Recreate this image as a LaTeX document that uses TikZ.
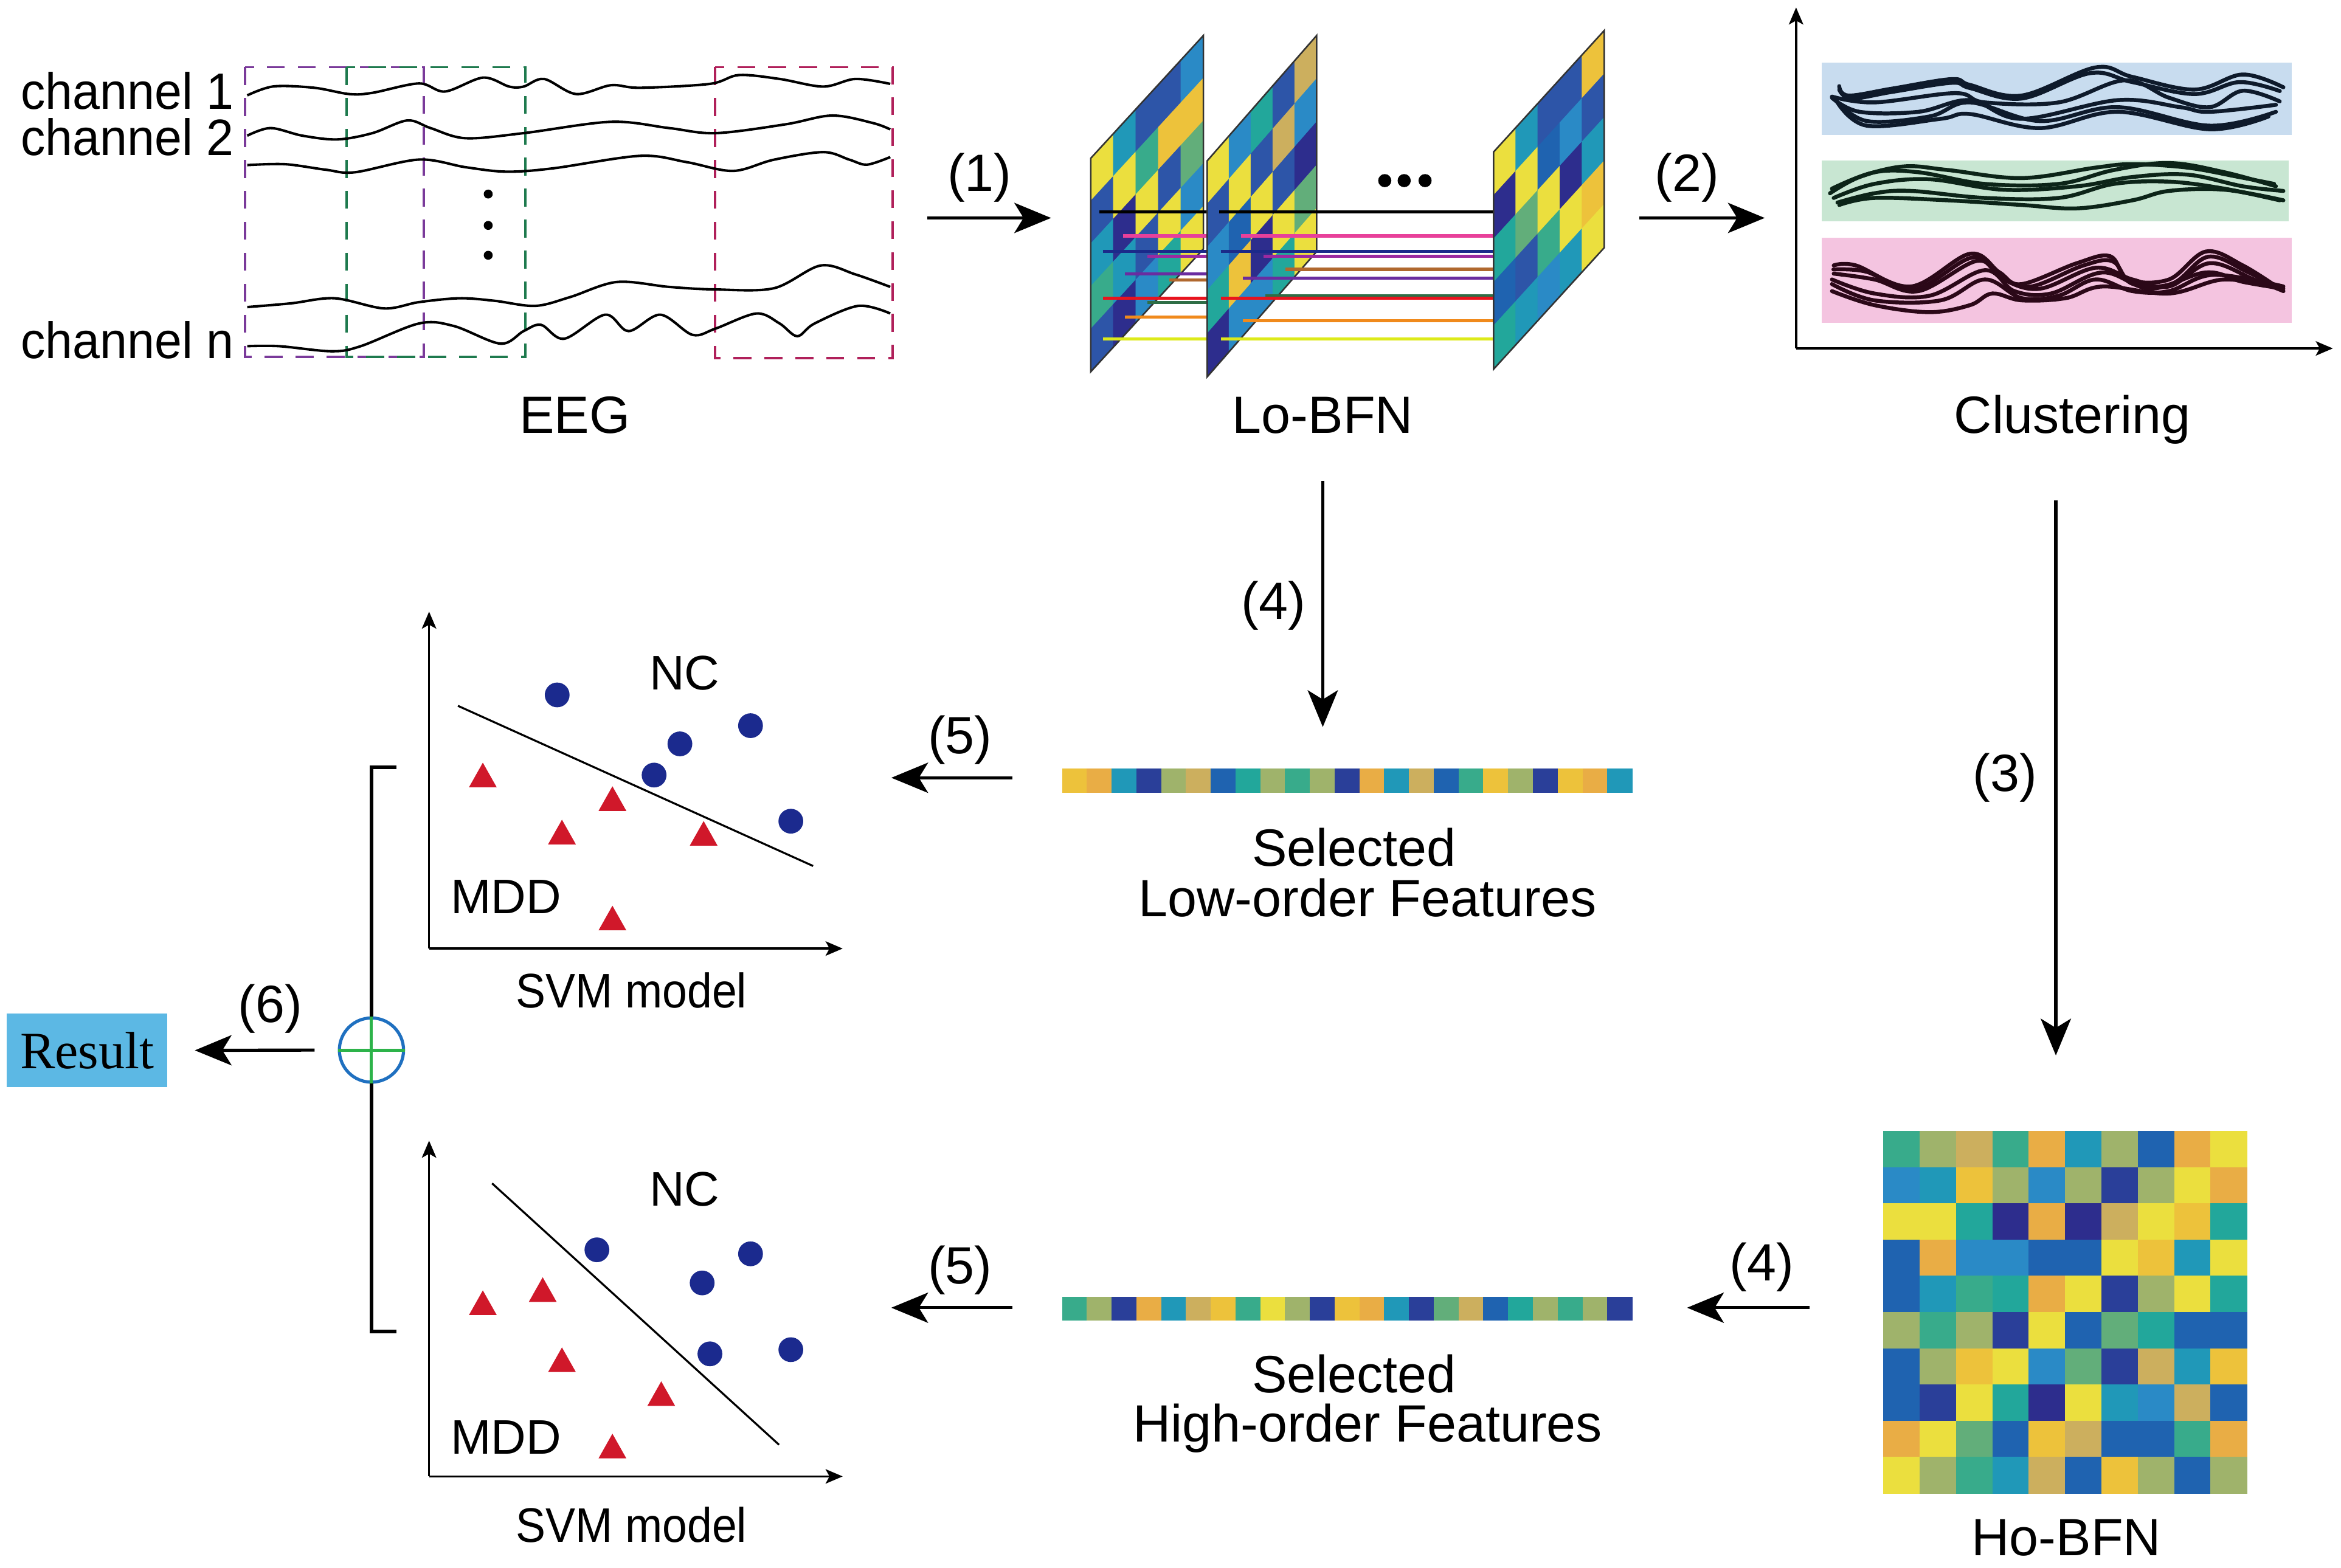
\documentclass[tikz,border=0pt]{standalone}
\usepackage{fontspec}
\setmainfont{Liberation Sans}
\newfontfamily\serifres{Liberation Serif}
\usetikzlibrary{arrows.meta}
\definecolor{pY}{HTML}{EBDF3E}
\definecolor{pYO}{HTML}{EDC23B}
\definecolor{pO}{HTML}{E9AD45}
\definecolor{pTa}{HTML}{CCAF5E}
\definecolor{pOl}{HTML}{9FB36B}
\definecolor{pGr}{HTML}{62AE7A}
\definecolor{pGT}{HTML}{38AB8B}
\definecolor{pTG}{HTML}{22A79B}
\definecolor{pTe}{HTML}{2098B8}
\definecolor{pBT}{HTML}{2A8AC6}
\definecolor{pB}{HTML}{1F63B0}
\definecolor{pBN}{HTML}{2D55A8}
\definecolor{pN}{HTML}{2A3F99}
\definecolor{pDN}{HTML}{2D2D8D}
\definecolor{boxpurple}{HTML}{7A3A9A}
\definecolor{boxgreen}{HTML}{1E7A4E}
\definecolor{boxmag}{HTML}{B0205A}
\definecolor{lpink}{HTML}{E8409A}
\definecolor{lnavy}{HTML}{1B2A8A}
\definecolor{lmag}{HTML}{9B2AA0}
\definecolor{lpurp}{HTML}{6A2CA0}
\definecolor{lbrown}{HTML}{B0682E}
\definecolor{lred}{HTML}{E8141E}
\definecolor{lgreen}{HTML}{2E6E46}
\definecolor{lorange}{HTML}{F08A1C}
\definecolor{lyellow}{HTML}{DDEA1A}
\definecolor{bandblue}{HTML}{C8DCEF}
\definecolor{bandgreen}{HTML}{C8E6D2}
\definecolor{bandpink}{HTML}{F4C4E0}
\definecolor{wblue}{HTML}{0E1A2B}
\definecolor{wgreen}{HTML}{0C2418}
\definecolor{wpink}{HTML}{2B0818}
\definecolor{resblue}{HTML}{5CB8E4}
\definecolor{dotblue}{HTML}{1B2A8E}
\definecolor{trired}{HTML}{D0182A}
\definecolor{plusblue}{HTML}{1F70C0}
\definecolor{plusgreen}{HTML}{2DB34A}
\newcommand\lopanel[6]{%
  \begin{scope}[shift={(#1,#2)}, yslant=#3]
    \foreach \pcols [count=\i from 0] in {#6} {
      \foreach \col [count=\j from 0] in \pcols {
        \fill[fill=p\col, draw=p\col, line width=0.2pt] ({\i*#4/5},{\j*#5/5}) rectangle ({(\i+1)*#4/5},{(\j+1)*#5/5});
      }
    }
    \draw[line width=0.6pt, black!80] (0,0) rectangle (#4,#5);
  \end{scope}}
\newcommand\mtri[2]{\fill[trired] (#1-9.3,#2) -- (#1+9.3,#2) -- (#1,#2-16.5) -- cycle;}
\newcommand\mdot[2]{\fill[dotblue] (#1,#2) circle[radius=8.3];}
\begin{document}
\begin{tikzpicture}[x=0.02cm, y=-0.02cm,
  lbl/.style={font=\fontsize{20}{20}\selectfont, inner sep=0pt},
  chlbl/.style={font=\fontsize{19.5}{19.5}\selectfont, inner sep=0pt},
  slbl/.style={font=\fontsize{18.5}{18.5}\selectfont, inner sep=0pt},
  flow/.style={line width=1.2pt, -{Stealth[length=14pt, width=11.5pt, inset=3.5pt]}},
  axisarr/.style={line width=0.8pt, -{Stealth[length=6.5pt, width=5.5pt, inset=1.5pt]}},
  eegwave/.style={line width=0.95pt, black},
  cwave/.style={line width=1.5pt, line cap=round},
  dbox/.style={line width=0.9pt, dash pattern=on 6.8pt off 5pt},
  lnk/.style={line width=1.2pt},
  ]
\useasboundingbox[fill=white] (0,0) rectangle (1568,1050);

% ---------------- EEG ----------------
\draw[dbox, boxpurple] (164,45) rectangle (284,239);
\draw[dbox, boxgreen] (232,45) rectangle (352,239);
\draw[dbox, boxmag] (479,45) rectangle (598,240);
\draw[eegwave] plot[smooth, tension=0.55] coordinates {(165.6,63.9) (183.2,57.9) (210.4,58.8) (233.8,63.0) (249.4,62.2) (280.6,55.9) (298.1,61.3) (323.5,52.0) (341.0,58.0) (350.7,58.0) (364.4,52.9) (385.8,63.0) (409.2,57.1) (428.7,58.8) (475.4,56.2) (494.9,50.3) (522.2,52.9) (551.4,58.0) (572.9,52.9) (596.3,56.2)};
\draw[eegwave] plot[smooth, tension=0.55] coordinates {(165.6,90.9) (181.2,85.8) (202.6,90.9) (226,93.4) (249.4,89.2) (272.8,80.7) (288.4,85.8) (311.8,92.6) (350.7,89.2) (409.2,81.6) (448.2,85.8) (479.3,89.2) (526.1,83.3) (557.3,77.4) (584.6,82.4) (596.3,86.7)};
\draw[eegwave] plot[smooth, tension=0.55] coordinates {(165.6,110.6) (191,110) (218.2,113.7) (237.7,115.4) (280.6,106.9) (311.8,112) (339,115) (370.2,112.8) (428.7,104.4) (459.9,108.6) (491,114.5) (518.3,107) (551.4,101.9) (569,107) (580.7,110.3) (596.3,105.2)};
\draw[eegwave] plot[smooth, tension=0.55] coordinates {(165.6,205.7) (194.9,203.2) (224.1,199.8) (257.2,206.6) (280.6,202.4) (307.9,199.8) (331.3,201.5) (358.5,204.9) (381.9,199) (413.1,188.9) (448.2,192.2) (479.3,193.9) (518.3,193.1) (549.5,177.9) (572.9,183.8) (596.3,192.2)};
\draw[eegwave] plot[smooth, tension=0.55] coordinates {(165.6,231.9) (187,231.9) (222.1,235.3) (241.6,231.9) (280.6,216.7) (304,218.4) (335.2,230.2) (350.7,221.8) (362.4,217.6) (378,226.9) (405.3,210.8) (421,221.8) (442.3,210.8) (463.8,224.3) (479.3,220.1) (506.6,210) (522.2,216.7) (534,225.2) (545.6,216.7) (574.8,204.9) (596.3,210)};
\foreach \yy in {130,151,171} \fill (327,\yy) circle[radius=3];
\node[chlbl, anchor=base east] (ch1) at (157,73) {\scalebox{0.96}[1]{channel 1}};
\node[chlbl, anchor=base east] (ch2) at (157,104) {\scalebox{0.96}[1]{channel 2}};
\node[chlbl, anchor=base east] (chn) at (157,240) {\scalebox{0.96}[1]{channel n}};
\node[lbl, anchor=base] (eeg) at (385,290) {EEG};

% ---------------- Lo-BFN ----------------
\lopanel{730.6}{106}{1.09}{75.4}{143}{{Y,BN,Te,GT,BN},{Te,Y,DN,Te,DN},{BN,GT,Y,BN,BT},{BN,YO,BN,Y,TG},{BT,YO,Gr,BT,Y}}
\foreach \yy/\xs/\cl in {141.8/736.3/black, 158/752.3/lpink, 168.4/738.7/lnavy, 171.7/768.4/lmag, 183.4/753.5/lpurp, 187.5/783.2/lbrown, 199.7/738.7/lred, 202.5/768.4/lgreen, 212.5/753.5/lorange, 227.1/738.7/lyellow}
  \draw[lnk, \cl] (\xs,\yy) -- (809,\yy);
\lopanel{808.6}{107.7}{1.145}{73.3}{144.7}{{Y,BN,BT,TG,DN},{BT,Y,B,YO,BT},{TG,BN,Y,DN,BT},{BN,Ta,BN,Y,TG},{Ta,BT,DN,Gr,Y}}
\foreach \yy/\xs/\cl in {141.8/816.5/black, 158/831.3/lpink, 168.4/817.7/lnavy, 171.7/846.2/lmag, 180.4/860.9/lbrown, 186.2/832.6/lpurp, 198/847.4/lgreen, 199.7/817.7/lred, 214.9/832.6/lorange, 227.1/817.7/lyellow}
  \draw[lnk, \cl] (\xs,\yy) -- (1000.5,\yy);
\lopanel{1000.4}{101.8}{1.098}{74.1}{145.5}{{Y,DN,TG,B,TG},{Te,Y,Gr,BN,Te},{BN,B,Y,GT,BT},{BN,BT,DN,Y,Te},{YO,BN,Te,YO,Y}}
\foreach \xx in {927.5,940.5,954.5} \fill (\xx,121) circle[radius=4.4];
\node[lbl, anchor=base] (lobfn) at (886,290) {Lo-BFN};

% ---------------- Clustering ----------------
\fill[bandblue] (1220,41.8) rectangle (1535,90.5);
\fill[bandgreen] (1220,107.7) rectangle (1533,148.3);
\fill[bandpink] (1220,159.2) rectangle (1535,216.1);
\begin{scope}[cwave, wblue]
\draw plot[smooth, tension=0.6] coordinates {(1231.9,57.7) (1238.1,64) (1267.7,59.3) (1307.2,53) (1319.5,56.9) (1354.1,64) (1403.5,45.2) (1428.2,51.5) (1470,60) (1502.2,49.9) (1529.4,58.5)};
\draw plot[smooth, tension=0.6] coordinates {(1227,64.7) (1255.4,68.6) (1309.7,62.4) (1329.4,68.6) (1378.8,68.6) (1423.2,53.8) (1452.8,65.5) (1480,71.8) (1502.2,60.8) (1526.9,67.9)};
\draw plot[smooth, tension=0.6] coordinates {(1227,65.5) (1245.5,74.9) (1285,74.9) (1319.5,67.1) (1354.1,79.6) (1418.3,67.1) (1460.3,71.8) (1480,74.9) (1524.4,70.2)};
\draw plot[smooth, tension=0.6] coordinates {(1229.4,67.1) (1250.4,81.1) (1292.4,78) (1319.5,68.6) (1366.4,81.1) (1418.3,71.8) (1480,84.2) (1524.4,74.9)};
\draw plot[smooth, tension=0.6] coordinates {(1230.7,68.6) (1250.4,84.2) (1299.8,79.6) (1319.5,76.4) (1366.4,85.8) (1418.3,74.9) (1480,86.6) (1519.5,78)};
\draw plot[smooth, tension=0.6] coordinates {(1231.9,60) (1240,66) (1267.7,61.5) (1307.2,55.5) (1319.5,59) (1354.1,66) (1400,49) (1428.2,55) (1470,63) (1500,55) (1527,61)};
\end{scope}
\begin{scope}[cwave, wgreen]
\draw plot[smooth, tension=0.6] coordinates {(1225.7,129.5) (1245.5,118.6) (1275.1,111.5) (1304.7,113.9) (1354.1,119.3) (1403.5,112.3) (1428.2,110) (1465.2,112.3) (1499.7,118.6) (1523.2,123.2)};
\draw plot[smooth, tension=0.6] coordinates {(1227,126.4) (1255.4,115.4) (1285,115.4) (1329.4,123.2) (1378.8,123.2) (1415.8,113.9) (1452.8,109.2) (1489.9,115.4) (1524.4,124.8)};
\draw plot[smooth, tension=0.6] coordinates {(1228.2,132.6) (1255.4,123.2) (1292.4,120.1) (1341.8,127.1) (1391.1,124.8) (1428.2,118.6) (1465.2,117) (1502.2,124.8) (1529.4,127.9)};
\draw plot[smooth, tension=0.6] coordinates {(1230.7,135.7) (1255.4,129.5) (1280,127.9) (1329.4,132.6) (1378.8,132.6) (1415.8,123.2) (1452.8,121.7) (1489.9,126.4) (1526.9,134.2)};
\draw plot[smooth, tension=0.6] coordinates {(1231.9,137.3) (1255.4,132.6) (1304.7,134.2) (1354.1,137.3) (1391.1,139.6) (1428.2,134.2) (1452.8,127.9) (1489.9,127.1) (1529.4,134.2)};
\end{scope}
\begin{scope}[cwave, wpink]
\draw plot[smooth, tension=0.6] coordinates {(1228.2,177.8) (1243,177.8) (1280,191.9) (1319.5,170) (1339.3,182.5) (1354.1,190.3) (1391.1,176.3) (1413.3,171.6) (1425.7,187.2) (1452.8,187.2) (1477.5,168.5) (1502.2,177.8) (1526.9,193.4)};
\draw plot[smooth, tension=0.6] coordinates {(1228.2,183.3) (1255.4,187.2) (1285,195) (1324.5,174.7) (1341.8,187.2) (1366.4,193.4) (1403.5,179.4) (1428.2,187.2) (1452.8,191.9) (1480,176.3) (1509.6,187.2) (1529.4,195)};
\draw plot[smooth, tension=0.6] coordinates {(1227,187.2) (1255.4,196.6) (1292.4,198.1) (1329.4,181) (1349.2,195) (1373.8,196.6) (1408.4,182.5) (1440.5,193.4) (1477.5,182.5) (1502.2,188.8) (1529.4,193.4)};
\draw plot[smooth, tension=0.6] coordinates {(1227,190.3) (1255.4,201.2) (1299.8,201.2) (1329.4,187.2) (1354.1,199.7) (1378.8,198.1) (1403.5,187.2) (1428.2,195) (1452.8,195) (1482.5,184.1) (1529.4,191.9)};
\draw plot[smooth, tension=0.6] coordinates {(1227,195) (1255.4,204.4) (1292.4,209.1) (1319.5,204.4) (1334.4,196.6) (1354.1,201.2) (1383.7,199.7) (1408.4,191.9) (1452.8,196.6) (1489.9,187.2) (1526.9,193.4)};
\draw plot[smooth, tension=0.6] coordinates {(1228,180.5) (1250,182) (1282,194) (1321,172.5) (1340,185) (1360,192) (1395,178) (1415,175) (1428,190) (1455,190) (1479,172) (1505,182) (1528,194)};
\end{scope}
\coordinate (co) at (1203,233.4);
\coordinate (cy) at (1203,5);
\coordinate (cx) at (1562.5,233.4);
\draw[axisarr] (co) -- (cy);
\draw[axisarr] (co) -- (cx);
\node[lbl, anchor=base] (clust) at (1388,290) {Clustering};

% ---------------- Ho-BFN ----------------
\foreach \rw [count=\j from 0] in {{GT,Ol,Ta,GT,O,Te,Ol,B,O,Y},{BT,Te,YO,Ol,BT,Ol,N,Ol,Y,O},{Y,Y,TG,DN,O,DN,Ta,Y,YO,TG},{B,O,BT,BT,B,B,Y,YO,Te,Y},{B,Te,GT,TG,O,Y,N,Ol,Y,TG},{Ol,GT,Ol,N,Y,B,Gr,TG,B,B},{B,Ol,YO,Y,BT,Gr,N,Ta,Te,YO},{B,N,Y,TG,DN,Y,Te,BT,Ta,B},{O,Y,Gr,B,YO,Ta,B,B,GT,O},{Y,Ol,GT,Te,Ta,B,YO,Ol,B,Ol}} {
  \foreach \col [count=\i from 0] in \rw {
    \fill[fill=p\col, draw=p\col, line width=0.2pt] ({1261.6+\i*24.35},{757.8+\j*24.25}) rectangle ++(24.35,24.25);
  }
}
\node[lbl, anchor=base] (hobfn) at (1384,1042) {Ho-BFN};

% ---------------- feature vectors ----------------
\foreach \col [count=\i from 0] in {YO,O,Te,N,Ol,Ta,B,TG,Ol,GT,Ol,N,O,Te,Ta,B,GT,YO,Ol,N,YO,O,Te}
  \fill[fill=p\col, draw=p\col, line width=0.2pt] ({711.5+\i*16.6},515) rectangle ++(16.6,16);
\foreach \col [count=\i from 0] in {GT,Ol,N,O,Te,Ta,YO,GT,Y,Ol,N,YO,O,Te,N,Gr,Ta,B,TG,Ol,GT,Ol,N}
  \fill[fill=p\col, draw=p\col, line width=0.2pt] ({711.5+\i*16.6},869) rectangle ++(16.6,15.5);
\node[lbl, anchor=base] (sel1) at (907,580) {Selected};
\node[lbl, anchor=base] (low) at (916,614) {Low-order Features};
\node[lbl, anchor=base] (sel2) at (907,933) {Selected};
\node[lbl, anchor=base] (high) at (916,966) {High-order Features};

% ---------------- SVM top ----------------
\coordinate (s1o) at (287.4,635.4);
\coordinate (s1y) at (287.4,409.7);
\coordinate (s1x) at (564.4,635.4);
\draw[axisarr] (s1o) -- (s1y);
\draw[axisarr] (s1o) -- (s1x);
\draw[line width=0.75pt] (306.7,472.8) -- (544.6,580.1);
\mdot{373.2}{465.5}\mdot{502.7}{486.1}\mdot{455.4}{498.3}\mdot{438.1}{519.2}\mdot{529.7}{550.1}
\mtri{323.4}{527.4}\mtri{410.2}{543.2}\mtri{376.4}{565.6}\mtri{471.3}{566.5}\mtri{410.2}{623.2}
\node[slbl, anchor=base] (nc1) at (458.5,462) {NC};
\node[slbl, anchor=base] (mdd1) at (339,612) {MDD};
\node[slbl, anchor=base] (svm1) at (423,675) {\scalebox{0.92}[1]{SVM model}};

% ---------------- SVM bottom ----------------
\coordinate (s2o) at (287.4,989);
\coordinate (s2y) at (287.4,764.1);
\coordinate (s2x) at (564.4,989);
\draw[axisarr] (s2o) -- (s2y);
\draw[axisarr] (s2o) -- (s2x);
\draw[line width=0.75pt] (329.6,792.7) -- (521.8,967.8);
\mdot{399.8}{837.2}\mdot{502.7}{839.9}\mdot{470.3}{859.4}\mdot{475.5}{906.9}\mdot{529.7}{904.1}
\mtri{323.4}{880.9}\mtri{363.5}{872.1}\mtri{376.4}{919.1}\mtri{442.9}{941.8}\mtri{410.2}{976.9}
\node[slbl, anchor=base] (nc2) at (458.5,808) {NC};
\node[slbl, anchor=base] (mdd2) at (339,974) {MDD};
\node[slbl, anchor=base] (svm2) at (423,1033) {\scalebox{0.92}[1]{SVM model}};

% ---------------- fusion and result ----------------
\node[circle, draw=plusblue, line width=1.2pt, fill=white, minimum size=0.86cm, inner sep=0pt] (plus) at (248.8,703.4) {};
\draw[plusgreen, line width=1.2pt] (plus.north) -- (plus.south) (plus.west) -- (plus.east);
\draw[line width=1.4pt] (265.6,514) -- (248.8,514) -- (plus.north);
\draw[line width=1.4pt] (plus.south) -- (248.8,892) -- (265.6,892);
\node[fill=resblue, minimum width=2.15cm, minimum height=0.99cm, inner sep=0pt, font=\serifres\fontsize{20}{20}\selectfont] (result) at (58.4,703.6) {Result};

% ---------------- flow arrows ----------------
\coordinate (a1s) at (621,146);  \coordinate (a1e) at (704,146);
\coordinate (a2s) at (1098,146); \coordinate (a2e) at (1182,146);
\coordinate (a3s) at (1377,335); \coordinate (a3e) at (1377,707);
\coordinate (a4s) at (886,322);  \coordinate (a4e) at (886,487);
\coordinate (b4s) at (1212,876); \coordinate (b4e) at (1130,876);
\coordinate (a5s) at (678,521);  \coordinate (a5e) at (597,521);
\coordinate (b5s) at (678,876);  \coordinate (b5e) at (597,876);
\draw[flow] (a1s) -- (a1e);
\draw[flow] (a2s) -- (a2e);
\draw[flow] (a3s) -- (a3e);
\draw[flow] (a4s) -- (a4e);
\draw[flow] (b4s) -- (b4e);
\draw[flow] (a5s) -- (a5e);
\draw[flow] (b5s) -- (b5e);
\draw[flow] ([xshift=-0.31cm]plus.west) -- ([xshift=0.36cm]result.east);
\node[lbl, anchor=base] (l1) at (656,128) {(1)};
\node[lbl, anchor=base] (l2) at (1130,128) {(2)};
\node[lbl, anchor=base] (l3) at (1343,530) {(3)};
\node[lbl, anchor=base] (l4a) at (853,415) {(4)};
\node[lbl, anchor=base] (l4b) at (1180,858) {(4)};
\node[lbl, anchor=base] (l5a) at (643,505) {(5)};
\node[lbl, anchor=base] (l5b) at (643,860) {(5)};
\node[lbl, anchor=base] (l6) at (181,685) {(6)};
\end{tikzpicture}
\end{document}
